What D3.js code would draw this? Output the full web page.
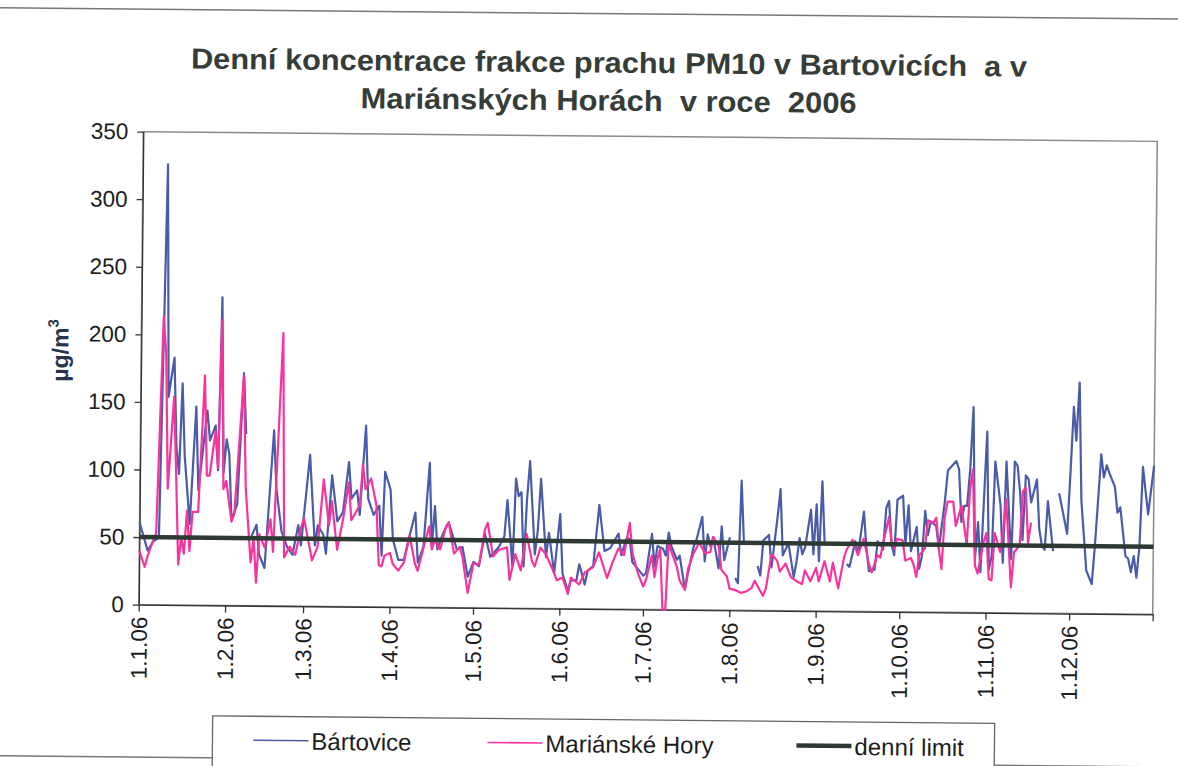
<!DOCTYPE html>
<html>
<head>
<meta charset="utf-8">
<script src="https://cdn.jsdelivr.net/npm/d3@7"></script>
<style>
  body { margin: 0; background: #fff; }
  svg { display: block; font-family: "Liberation Sans", Arial, sans-serif; }
</style>
</head>
<body>
<svg id="chart" width="1178" height="766"></svg>
<script>
// title and axis texts
const titleLines = ['Denní koncentrace frakce prachu PM10 v Bartovicích  a v', 'Mariánských Horách  v roce  2006']
const yTicks = [0, 50, 100, 150, 200, 250, 300, 350]
const monthTicks = [0, 31, 59, 90, 120, 151, 181, 212, 243, 273, 304, 334] // day of year of each 1st
const seriesNames = ['Bártovice', 'Mariánské Hory', 'denní limit']
const dailyLimit = 50

// [day of year (0 = 1.1.06), µg/m3], null = no measurement
const bartovice = [
  [0, 61], [3, 40], [5, 47], [7, 50], [9, 326], [10, 154], [12, 183], [13, 117], [14, 97], [15, 164],
  [16, 110], [18, 60], [20, 147], [21, 85], [24, 144], [25, 122], [27, 133], [28, 100], [29, 228], [30, 98],
  [31, 123], [32, 112], [33, 63], [35, 75], [37, 172], [38, 127], [39, null], [40, 50], [42, 60], [43, 38],
  [45, 28], [48, 130], [49, 87], [51, 55], [53, 44], [55, 38], [57, 60], [58, 45], [61, 112], [63, 45],
  [64, 60], [66, 53], [67, 39], [69, 97], [71, 63], [73, 70], [75, 107], [76, 80], [78, 86], [79, 68],
  [81, 134], [82, 80], [84, 68], [86, 75], [87, 38], [88, 100], [90, 87], [91, 50], [93, 35], [95, 35],
  [97, 53], [99, 70], [100, 33], [102, 45], [104, 107], [105, 45], [106, 75], [107, 43], [109, 55], [111, 63],
  [114, 43], [116, 45], [118, 23], [120, 34], [122, 31], [124, 55], [126, 38], [129, 45], [131, 53], [132, 80],
  [134, 31], [135, 96], [136, 83], [137, 86], [138, 31], [139, 80], [140, 109], [142, 40], [143, 58], [144, 96],
  [146, 38], [147, 56], [149, 26], [151, 70], [152, 26], [154, 13], [155, 21], [157, 21], [158, 33], [160, 18],
  [161, 28], [163, 32], [165, 77], [167, 43], [169, 45], [172, 56], [173, 40], [175, 53], [176, 52], [177, 35],
  [179, 30], [181, 25], [182, 27], [184, 56], [185, 32], [186, 47], [188, 45], [189, 40], [190, 57], [191, 47],
  [193, 37], [194, 40], [196, 15], [197, 27], [199, 47], [200, 52], [202, 69], [203, 36], [204, 56], [205, 47],
  [206, 54], [208, 31], [209, 62], [210, 37], [212, 54], [213, null], [214, 24], [215, 20], [216, 96], [217, 51],
  [218, null], [222, 33], [223, 26], [224, 52], [226, 56], [227, 32], [229, 69], [230, 90], [231, 41], [233, 50],
  [235, 25], [236, 37], [237, 54], [238, 42], [239, 47], [241, 75], [242, 42], [243, 79], [244, 37], [245, 96],
  [246, 50], [247, null], [254, 35], [255, 33], [257, 52], [258, 42], [260, 74], [261, 47], [262, 30], [264, 31],
  [265, 52], [266, 50], [267, 46], [268, 77], [269, 82], [270, 50], [271, 42], [272, 83], [274, 86], [275, 50],
  [276, 79], [277, 45], [279, 63], [280, 32], [281, 42], [282, 75], [283, 57], [284, 67], [286, 64], [287, 47],
  [289, 82], [290, 105], [293, 112], [294, 106], [295, 67], [296, 79], [297, 79], [298, 106], [299, 152], [300, 40],
  [301, 67], [302, 30], [304, 134], [305, 32], [306, 42], [307, 112], [309, 80], [310, 37], [311, 112], [313, 40],
  [314, 112], [315, 109], [316, 89], [317, 54], [318, 102], [319, 99], [320, 82], [322, 99], [323, 62], [324, 50],
  [325, 47], [326, 83], [328, 46], [329, null], [330, 89], [331, 79], [333, 59], [334, 104], [335, 153], [336, 128],
  [337, 171], [338, 84], [340, 32], [342, 22], [343, 50], [345, 118], [346, 101], [347, 110], [348, 104], [350, 94],
  [351, 75], [352, 79], [354, 43], [355, 41], [356, 31], [357, 43], [358, 27], [359, 50], [360, 109], [362, 74],
  [364, 110]
]

const marianskeHory = [
  [0, 40], [2, 28], [3, 36], [5, 48], [6, 53], [8, 213], [9, 186], [10, 86], [12, 154], [13, 95],
  [14, 30], [15, 50], [16, 38], [17, 70], [18, 40], [19, 69], [21, 69], [23, 170], [24, 96], [25, 96],
  [27, 129], [28, 102], [29, 211], [30, 86], [31, 92], [33, 62], [34, 68], [37, 170], [38, 87], [40, 32],
  [41, 50], [42, 17], [43, 53], [45, 43], [47, 64], [48, 40], [51, 202], [52, 36], [54, 44], [56, 38],
  [58, 58], [59, 65], [61, 45], [62, 34], [64, 44], [66, 94], [68, 60], [69, 78], [71, 42], [73, 64],
  [75, 92], [76, 64], [79, 75], [80, 105], [81, 87], [83, 95], [85, 75], [86, 31], [87, 30], [88, 38],
  [90, 40], [91, 32], [93, 27], [95, 33], [97, 53], [99, 32], [100, 27], [102, 44], [104, 60], [105, 43],
  [106, 50], [108, 43], [110, 60], [111, 63], [113, 40], [115, 45], [116, 38], [118, 11], [120, 33], [122, 32],
  [124, 58], [125, 63], [127, 38], [129, 43], [132, 45], [133, 21], [135, 40], [137, 28], [139, 55], [141, 35],
  [142, 31], [144, 45], [146, 40], [148, 31], [150, 21], [152, 23], [154, 11], [155, 23], [158, 18], [160, 27],
  [163, 31], [165, 42], [168, 23], [170, 35], [172, 45], [174, 40], [176, 64], [177, 42], [179, 27], [181, 17],
  [182, 22], [184, 40], [185, 24], [186, 37], [187, 45], [188, 0], [189, 0], [190, 50], [191, 43], [193, 32],
  [194, 22], [196, 15], [197, 30], [199, 42], [201, 50], [203, 42], [205, 43], [206, 54], [208, 47], [209, 30],
  [211, 25], [212, 16], [214, 15], [216, 13], [218, 14], [220, 17], [221, 22], [224, 11], [225, 16], [227, 42],
  [229, 37], [230, 29], [232, 35], [234, 25], [236, 22], [238, 20], [239, 30], [241, 22], [243, 32], [244, 22],
  [246, 37], [248, 22], [249, 36], [251, 17], [253, 40], [254, 46], [256, 53], [258, 42], [260, 54], [262, 35],
  [263, 29], [265, 42], [266, 40], [267, 51], [269, 70], [270, 52], [271, 47], [272, 54], [274, 53], [275, 38],
  [277, 40], [278, 35], [279, 26], [280, 42], [282, 47], [283, 68], [285, 66], [286, 70], [287, 47], [288, 32],
  [289, 70], [290, 82], [292, 82], [293, 64], [295, 79], [297, 50], [298, 91], [299, 106], [300, 35], [301, 29],
  [303, 52], [304, 59], [305, 25], [306, 24], [307, 59], [309, 45], [310, 59], [311, 84], [313, 19], [314, 45],
  [316, 50], [317, 90], [318, 93], [319, 52], [320, 67]
]

const colors = { bart: '#4a5ba8', mar: '#f7339c', limit: '#2c3a33', text: '#1c1c1c' }

const svg = d3.select('#chart')
// the original is a slightly tilted scan, so the whole drawing gets a small turn
const root = svg.append('g').attr('transform', 'rotate(0.55, 648, 373)')

const plot = { left: 141, right: 1155, top: 136.5, bottom: 609.5 }
const start = new Date(2006, 0, 1)
const toDate = day => d3.timeDay.offset(start, day)

const x = d3.scaleTime()
  .domain([start, new Date(2006, 11, 31)])
  .range([plot.left, plot.right])
const y = d3.scaleLinear()
  .domain([0, 350])
  .range([plot.bottom, plot.top])

// chart area frame (its right side lies past the edge of the scan)
root.append('rect')
  .attr('x', -6).attr('y', 14)
  .attr('width', 1220).attr('height', 748)
  .attr('fill', 'none').attr('stroke', '#777').attr('stroke-width', 1.5)

// title
root.append('g').selectAll('text')
  .data(titleLines)
  .join('text')
  .attr('x', 606)
  .attr('y', (d, i) => 73 + i * 38)
  .attr('text-anchor', 'middle')
  .attr('font-size', 29)
  .attr('font-weight', 'bold')
  .attr('fill', '#363d38')
  .attr('textLength', (d, i) => i === 0 ? 836 : 496)
  .attr('lengthAdjust', 'spacingAndGlyphs')
  .style('white-space', 'pre')
  .text(d => d)

// plot area border (Excel draws it light gray)
root.append('rect')
  .attr('x', plot.left).attr('y', plot.top)
  .attr('width', plot.right - plot.left).attr('height', plot.bottom - plot.top)
  .attr('fill', 'none').attr('stroke', '#8a8a8a').attr('stroke-width', 1.5)

// y axis
const yAxis = root.append('g')
  .attr('transform', `translate(${plot.left},0)`)
  .call(d3.axisLeft(y).tickValues(yTicks).tickSize(6).tickPadding(9).tickSizeOuter(0))
yAxis.selectAll('text').attr('font-size', 22.5).attr('fill', colors.text)
  .attr('font-family', '"Liberation Sans", Arial, sans-serif')
yAxis.selectAll('line, path').attr('stroke', '#333').attr('stroke-width', 1.3)

// x axis, last tick marks the end of the year
const xTickDates = monthTicks.map(toDate).concat([new Date(2006, 11, 31)])
const fmt = d3.timeFormat('%-d.%-m.%y')
const xAxis = root.append('g')
  .attr('transform', `translate(0,${plot.bottom})`)
  .call(d3.axisBottom(x).tickValues(xTickDates).tickSize(7).tickSizeOuter(0)
    .tickFormat((d, i) => i < monthTicks.length ? fmt(d) : ''))
xAxis.selectAll('line, path').attr('stroke', '#333').attr('stroke-width', 1.3)
xAxis.selectAll('text')
  .attr('font-size', 22.5)
  .attr('fill', colors.text)
  .attr('font-family', '"Liberation Sans", Arial, sans-serif')
  .attr('text-anchor', 'end')
  .attr('transform', 'rotate(-90)')
  .attr('x', -12)
  .attr('y', 0)
  .attr('dy', '0.35em')

// y axis title
const yTitle = root.append('text')
  .attr('transform', 'translate(68,356) rotate(-90)')
  .attr('text-anchor', 'middle')
  .attr('font-size', 23)
  .attr('font-weight', 'bold')
  .attr('fill', '#27324c')
yTitle.append('tspan').text('µg/m')
yTitle.append('tspan').attr('font-size', 15).attr('dy', -10).text('3')

// series
const line = d3.line()
  .defined(d => d[1] !== null)
  .x(d => x(toDate(d[0])))
  .y(d => y(d[1]))

root.append('path')
  .datum(bartovice)
  .attr('d', line)
  .attr('fill', 'none')
  .attr('stroke', colors.bart)
  .attr('stroke-width', 2.2)
  .attr('stroke-linejoin', 'round')

root.append('path')
  .datum(marianskeHory)
  .attr('d', line)
  .attr('fill', 'none')
  .attr('stroke', colors.mar)
  .attr('stroke-width', 2.2)
  .attr('stroke-linejoin', 'round')

root.append('line')
  .attr('x1', x.range()[0]).attr('x2', x.range()[1])
  .attr('y1', y(dailyLimit)).attr('y2', y(dailyLimit))
  .attr('stroke', colors.limit)
  .attr('stroke-width', 4.5)

// legend
const legend = root.append('g')
legend.append('rect')
  .attr('x', 216).attr('y', 720)
  .attr('width', 782).attr('height', 60)
  .attr('fill', '#fff').attr('stroke', '#666').attr('stroke-width', 1.3)

const legendX = [257, 491, 800]
const legendStyle = [
  { color: colors.bart, width: 1.6 },
  { color: colors.mar, width: 1.6 },
  { color: colors.limit, width: 4.5 }
]
seriesNames.forEach((name, i) => {
  const item = legend.append('g').attr('transform', `translate(${legendX[i]},744)`)
  item.append('line')
    .attr('x1', 0).attr('x2', 55)
    .attr('stroke', legendStyle[i].color)
    .attr('stroke-width', legendStyle[i].width)
  item.append('text')
    .attr('x', 58).attr('y', 9)
    .attr('font-size', 24)
    .attr('fill', colors.text)
    .text(name)
})
</script>
</body>
</html>
